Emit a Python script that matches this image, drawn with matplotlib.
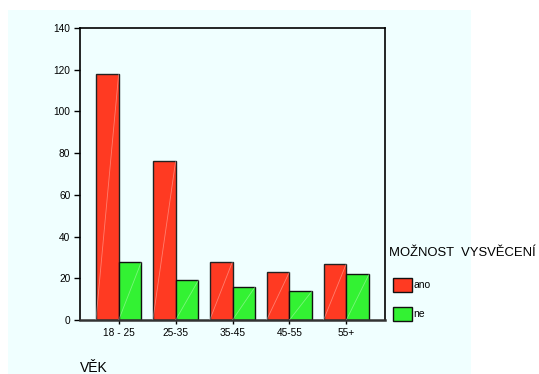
import numpy as np
import matplotlib.pyplot as plt
from matplotlib.patches import Rectangle

plt.rcParams['font.family'] = ['Liberation Sans', 'DejaVu Sans']

# věkové skupiny a počty odpovědí
kategorie = ['18 - 25', '25-35', '35-45', '45-55', '55+']
ano = [118, 76, 28, 23, 27]
ne = [28, 19, 16, 14, 22]

barva_ano = '#ff3a22'
barva_ne = '#33f233'
pozadi = '#f0ffff'

W, H = 539, 374
fig = plt.figure(figsize=(W / 100, H / 100), dpi=100)
fig.patch.set_facecolor('white')

# světle modrý podklad grafu
fig.patches.append(Rectangle((8 / W, 0), (471 - 8) / W, (374 - 10) / H,
                             transform=fig.transFigure, facecolor=pozadi,
                             edgecolor='none', zorder=-5))

ax = fig.add_axes([80 / W, (H - 320) / H, (385 - 80) / W, (320 - 28) / H])
ax.set_facecolor(pozadi)

x = np.arange(len(kategorie))
w = 0.4
sl_ano = ax.bar(x - w / 2, ano, w, color=barva_ano, edgecolor='#222222', linewidth=1.0, zorder=2)
sl_ne = ax.bar(x + w / 2, ne, w, color=barva_ne, edgecolor='#111111', linewidth=1.0, zorder=2)

# jemná diagonála přes každý sloupec
for b in list(sl_ano) + list(sl_ne):
    x0, x1 = b.get_x(), b.get_x() + b.get_width()
    ax.plot([x0, x1], [0, b.get_height()], color='white', alpha=0.35,
            linewidth=0.6, zorder=3)

ax.set_xlim(-0.68, 4.68)
ax.set_ylim(0, 140)
ax.set_yticks(range(0, 141, 20))
ax.set_xticks(x)
ax.set_xticklabels(kategorie)
ax.tick_params(axis='y', length=4, width=1, labelsize=7.3, pad=3)
ax.tick_params(axis='x', length=3, width=1, labelsize=7.3, pad=3)
for s in ax.spines.values():
    s.set_linewidth(1.2)
ax.spines['bottom'].set_linewidth(1.8)
ax.spines['bottom'].set_color('#333333')

fig.text(80 / W, 1 - 368 / H, 'VĚK', fontsize=10, va='center', ha='left')

# legenda vpravo
fig.text(389 / W, 1 - 253 / H, 'MOŽNOST  VYSVĚCENÍ', fontsize=9.4,
         va='center', ha='left')
for y, barva, popis in [(285, barva_ano, 'ano'), (314, barva_ne, 'ne')]:
    fig.patches.append(Rectangle((393 / W, 1 - (y + 7) / H), 19 / W, 14 / H,
                                 transform=fig.transFigure, facecolor=barva,
                                 edgecolor='#111111', linewidth=1.0, zorder=2))
    fig.text(413 / W, 1 - y / H, popis, fontsize=7.5, va='center', ha='left')

fig.savefig('out.png', dpi=100)
